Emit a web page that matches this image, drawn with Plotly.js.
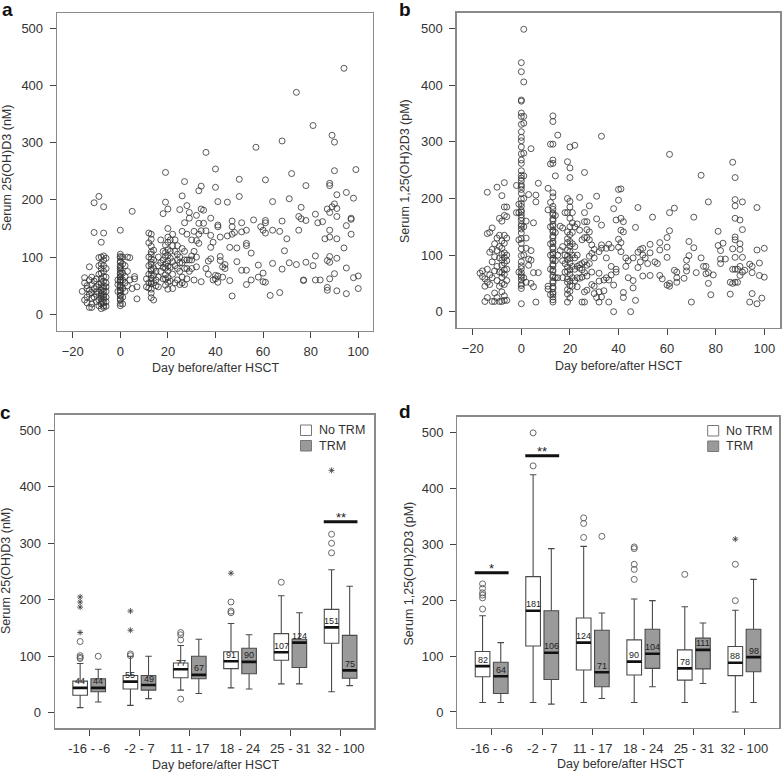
<!DOCTYPE html>
<html><head><meta charset="utf-8">
<script src="https://cdn.plot.ly/plotly-3.0.1.min.js"></script>
<style>html,body{margin:0;padding:0;background:#fff}#chart{width:782px;height:772px}</style>
</head><body><div id="chart"></div>
<script>
// ---------- Panel a: serum 25(OH)D3 (nM) by day ----------
const dayA = [
 -16,-15,-15,-15,-14,-14,-14,-14,-13,-13,-13,-13,-13,-12,-12,-12,-12,-12,-12,-11,-11,-11,-11,-11,-10,-10,-10,-10,-10,
 -9,-9,-9,-9,-9,-9,-9,-9,
 -8,-8,-8,-8,-8,-8,-8,-8,-8,-8,-8,-8,-8,-8,-8,
 -7,-7,-7,-7,-7,-7,-7,-7,-7,-7,-7,-7,-7,-7,-7,-7,-7,
 -6,-6,-6,-6,-6,-6,-6,-6,-6,
 -1,-1,-1,
 0,0,0,0,0,0,0,0,0,0,0,0,0,0,0,0,0,0,0,0,0,0,0,0,0,0,0,0,0,
 1,1,1,1,1,1,1,2,2,2,2,3,3,3,4,4,5,5,6,6,7,7,
 11,11,12,12,12,12,12,12,12,
 13,13,13,13,13,13,13,13,13,13,13,13,13,13,13,13,13,
 14,14,14,14,14,14,15,15,16,16,16,17,17,18,18,18,18,
 19,19,19,19,19,19,19,19,19,19,
 20,20,20,20,20,20,20,20,20,20,20,20,
 21,21,21,21,22,22,22,22,23,23,23,24,24,24,
 25,25,25,25,26,26,26,26,27,27,27,27,27,28,28,28,28,
 29,29,29,30,30,30,31,32,32,32,33,33,33,
 34,34,34,34,35,35,36,36,36,37,37,38,38,38,38,39,39,
 40,40,40,40,41,41,41,41,41,42,42,42,43,43,44,44,45,45,
 46,46,47,47,47,47,48,49,49,50,50,51,51,51,53,53,53,53,53,
 55,55,56,57,58,58,59,60,60,60,61,61,61,61,61,63,64,64,64,
 67,67,68,68,68,69,70,71,71,72,74,74,75,75,76,76,77,77,78,78,78,
 81,81,82,82,82,83,84,85,86,87,87,87,87,
 88,88,88,88,88,88,88,88,89,89,90,90,90,90,
 91,91,91,91,91,91,94,94,95,95,95,95,97,97,97,98,98,99,100,100,
 22,23,24,24,25,26,26,28,29,30,31,32,33,31,27,21,17,16,15,18
];
const valA = [
 40,25,55,64,20,30,45,50,12,35,42,60,83,12,18,28,38,52,65,30,45,58,143,195,22,35,48,62,40,
 15,25,38,52,70,85,99,206,
 10,18,22,28,32,36,42,48,55,62,72,80,88,100,126,
 12,15,20,26,30,34,40,45,50,58,66,75,85,95,102,142,188,
 14,22,30,40,55,65,80,98,48,
 40,52,60,
 15,19,25,27,32,33,38,41,42,47,50,51,56,59,60,65,66,71,72,77,80,83,85,91,93,99,101,105,147,
 18,30,45,60,72,88,100,40,55,66,85,50,75,100,60,99,45,180,62,66,27,48,
 48,62,46,55,70,85,100,125,142,
 29,37,44,53,57,63,69,76,79,87,91,97,105,109,119,131,140,
 25,55,68,80,95,112,60,75,85,100,48,90,130,95,110,176,62,
 51,62,69,81,88,101,108,121,196,248,
 44,56,64,76,84,93,103,113,126,135,150,184,
 58,82,98,130,45,70,92,140,55,85,110,60,95,120,
 52,75,100,183,65,90,145,207,52,80,110,160,232,62,95,140,190,
 75,168,178,102,95,130,110,83,129,173,124,159,216,
 57,146,184,224,159,182,80,146,283,70,93,97,117,138,168,60,126,
 68,62,222,254,56,67,153,156,197,94,101,135,65,83,80,87,137,196,
 59,117,32,140,153,163,143,92,116,206,236,77,144,160,52,77,120,124,147,
 60,107,165,292,65,86,153,57,72,147,56,142,160,164,235,33,89,147,197,
 38,145,79,163,303,111,132,90,202,246,87,388,147,171,167,187,59,60,91,164,225,
 85,330,60,102,175,160,60,162,132,42,47,94,184,
 62,91,101,135,147,178,225,229,188,313,71,193,251,301,
 41,98,132,171,185,209,116,430,36,81,155,213,140,166,168,64,203,253,45,67,
 120,130,80,105,90,55,115,80,95,80,145,100,140,60,95,110,75,65,50,82
];

// ---------- Panel b: serum 1,25(OH)2D3 (pM) by day ----------
const dayB = [
 -17,-16,-16,-15,-15,-15,-14,-14,-14,-14,-14,-13,-13,-13,-13,
 -12,-12,-12,-12,-12,-11,-11,-11,-11,-11,-10,-10,-10,-10,-10,-10,
 -9,-9,-9,-9,-9,-9,-9,
 -8,-8,-8,-8,-8,-8,-8,-8,-8,-8,-8,-8,
 -7,-7,-7,-7,-7,-7,-7,-7,-7,-7,-7,-7,-7,
 -6,-6,-6,-6,-6,-6,-6,-6,
 -2,-2,-1,-1,-1,-1,
 0,0,0,0,0,0,0,0,0,0,0,0,0,0,0,0,0,0,0,0,0,0,0,0,0,0,0,0,0,0,0,0,0,0,0,0,0,0,0,0,0,0,0,0,0,0,0,0,0,
 1,1,1,1,1,1,1,1,1,1,
 2,2,2,2,3,3,3,4,4,4,4,5,5,5,6,6,6,7,7,
 11,11,11,11,12,12,12,12,12,12,12,12,
 13,13,13,13,13,13,13,13,13,13,13,13,13,13,13,13,13,13,13,13,13,13,13,13,13,13,13,13,13,13,13,13,13,13,13,13,13,13,13,13,13,13,
 14,14,14,14,14,15,15,15,16,16,17,17,17,17,18,18,18,18,
 19,19,19,19,19,19,19,19,19,19,19,19,19,19,19,19,
 20,20,20,20,20,20,20,20,20,20,20,20,20,20,20,20,20,20,20,
 21,21,21,21,21,21,21,21,22,22,22,22,22,22,23,23,23,23,23,
 24,24,24,24,24,25,25,25,25,25,26,26,26,26,26,26,26,26,
 27,27,27,27,27,27,28,28,28,28,28,29,29,29,29,30,30,30,30,
 31,31,31,32,32,32,32,32,33,33,33,33,33,34,34,35,35,35,
 36,36,36,37,37,37,38,38,38,39,39,39,
 40,40,40,40,41,41,41,41,41,42,42,42,42,43,43,44,44,
 45,46,46,46,47,47,48,48,48,49,49,50,50,50,
 51,52,53,53,53,54,55,56,57,57,57,58,
 60,60,60,60,61,61,61,61,61,63,63,64,64,64,67,
 68,68,68,69,69,70,71,71,72,74,74,75,76,76,
 77,77,77,78,79,81,81,82,82,82,83,84,86,86,
 87,87,87,87,88,88,88,88,88,88,88,88,88,89,89,
 90,90,90,90,90,91,91,91,91,92,94,94,95,95,95,
 97,97,97,98,98,99,100,100
];
const valB = [
 68,62,72,45,58,18,211,138,75,25,52,140,105,65,48,
 148,110,88,60,18,120,97,72,33,18,220,130,108,80,55,25,
 165,135,115,95,70,45,18,
 205,160,125,112,101,91,82,69,61,50,35,18,
 228,185,170,135,121,104,96,86,74,66,48,28,20,
 185,168,130,100,75,55,20,90,
 223,175,70,127,175,190,
 41,46,49,56,61,64,69,76,81,88,99,111,121,129,139,146,151,154,161,166,171,176,179,186,191,199,209,216,221,224,231,236,241,249,262,268,279,291,302,308,318,331,345,351,372,374,424,440,14,
 499,406,345,333,60,100,150,200,240,280,
 52,112,130,160,207,93,82,50,91,108,288,157,69,44,206,194,17,227,69,
 45,40,180,218,30,75,100,120,150,296,261,193,
 17,21,26,31,34,41,44,51,54,61,64,71,74,81,84,91,94,101,104,111,114,121,124,131,134,141,144,151,154,161,164,171,174,181,186,203,210,268,262,296,336,346,
 60,90,140,170,240,312,60,100,151,108,148,115,60,90,70,85,100,175,
 17,31,39,52,58,71,79,92,98,109,122,129,141,175,200,265,
 24,36,46,54,66,74,86,94,106,116,124,136,150,165,185,195,237,254,291,
 45,60,80,100,120,140,175,157,55,75,95,115,294,150,60,80,100,155,44,
 202,144,83,77,59,17,85,74,61,127,246,175,17,35,88,69,159,131,
 159,38,82,63,131,145,187,127,98,85,141,48,103,70,118,32,45,110,95,
 204,164,25,35,17,54,68,106,310,153,26,112,118,37,56,112,60,95,
 17,56,119,113,65,80,47,182,0,162,75,70,
 216,197,128,114,217,165,144,122,106,159,141,34,25,80,95,90,60,
 0,42,95,55,149,20,184,105,78,110,88,63,100,112,
 95,85,119,104,64,167,88,85,122,109,64,58,
 96,47,131,114,45,50,278,175,143,183,73,70,60,52,59,
 91,79,72,124,99,17,113,167,69,241,95,80,80,67,
 194,69,50,30,65,142,117,108,93,85,121,93,52,31,
 50,264,111,75,237,198,187,165,132,127,96,75,52,75,52,
 162,120,110,80,64,194,145,96,70,73,84,17,80,69,32,
 184,109,14,86,64,24,112,61
];

// ---------- Panels c and d: box summaries by day window ----------
const groupLabels = ['-16 - -6','-2 - 7','11 - 17','18 - 24','25 - 31','32 - 100'];
const groupIdx = [0,1,2,3,4,5];

const cNoLow  = [9,13,40,44,51,37];
const cNoQ1   = [31,42,62,78,93,123];
const cNoMed  = [44,55,77,91,107,151];
const cNoQ3   = [56,66,88,108,140,183];
const cNoHigh = [87,100,119,158,207,253];
const cTrmLow  = [19,25,34,42,51,48];
const cTrmQ1   = [37,40,60,69,80,61];
const cTrmMed  = [44,49,67,90,124,75];
const cTrmQ3   = [60,66,100,114,130,137];
const cTrmHigh = [77,100,130,138,177,224];
const cNoOutG = [0,0,0,0,1,1,2,2,2,2,3,3,3,4,5,5,5];
const cNoOutV = [96,98,101,126,101,104,24,129,138,142,177,180,196,231,283,300,316];
const cTrmOutG = [0];
const cTrmOutV = [100];
const cStarG = [0,0,0,0,1,1,3,5];
const cStarV = [142,187,196,205,146,180,247,429];
const cSigG = [5];
const cSigV = [338];
const cSigT = ['**'];

const dNoLow  = [17,17,17,17,17,0];
const dNoQ1   = [63,118,75,66,57,65];
const dNoMed  = [82,181,124,90,78,88];
const dNoQ3   = [108,242,168,129,111,117];
const dNoHigh = [172,424,296,202,188,182];
const dTrmLow  = [17,14,24,45,51,17];
const dTrmQ1   = [33,58,45,78,77,72];
const dTrmMed  = [64,106,71,104,111,98];
const dTrmQ3   = [89,181,146,148,132,148];
const dTrmHigh = [124,292,177,199,159,237];
const dNoOutG = [0,0,0,0,0,0,1,1,2,2,2,3,3,3,3,3,4,5,5];
const dNoOutV = [184,204,209,213,221,229,440,499,312,337,347,237,255,264,292,295,246,199,264];
const dTrmOutG = [2];
const dTrmOutV = [314];
const dStarG = [5];
const dStarV = [309];
const dSigG = [0,1];
const dSigV = [249,458];
const dSigT = ['*','**'];

const dayTicks = [-20,0,20,40,60,80,100];
const valTicks = [0,100,200,300,400,500];

if (dayA.length !== valA.length || dayB.length !== valB.length) {
  throw new Error('length mismatch A ' + dayA.length + '/' + valA.length + ' B ' + dayB.length + '/' + valB.length);
}

// ---------- styling / layout ----------
const W = 782, H = 772;
const px = x => x / W, py = y => 1 - y / H;
const FONT = '"Liberation Sans", Arial, Helvetica, sans-serif';
const OFF = 0.18, BW = 0.29;
const WHITE = '#ffffff', GRAY = '#9a9a9a';

const scatterMarker = {symbol:'circle-open', size:6, color:'rgba(50,50,50,0.8)', line:{width:1}};
const outMarker = {symbol:'circle-open', size:6, color:'rgba(90,90,90,0.9)', line:{width:1}};
const starMarker = {symbol:'asterisk-open', size:5, color:'#3a3a3a', line:{width:0.8}};

const traces = [];
traces.push({type:'scatter', mode:'markers', x:dayA, y:valA, xaxis:'x', yaxis:'y', marker:scatterMarker, hoverinfo:'skip'});
traces.push({type:'scatter', mode:'markers', x:dayB, y:valB, xaxis:'x2', yaxis:'y2', marker:scatterMarker, hoverinfo:'skip'});

const annotations = [];

function boxPanel(xa, ya, sets) {
  sets.forEach(s => {
    const pos = groupIdx.map(i => i + s.off);
    traces.push({type:'box', orientation:'v', x:pos, q1:s.q1, median:s.med, q3:s.q3,
      lowerfence:s.lo, upperfence:s.hi, boxpoints:false, width:BW, whiskerwidth:0.45,
      fillcolor:s.fill, line:{color:'#4a4a4a', width:1.1}, xaxis:xa, yaxis:ya, hoverinfo:'skip'});
    // thick median bars
    const mx = [], my = [];
    groupIdx.forEach((g, i) => { mx.push(pos[i] - BW/2, pos[i] + BW/2, null); my.push(s.med[i], s.med[i], null); });
    traces.push({type:'scatter', mode:'lines', x:mx, y:my, line:{color:'#111', width:2.6}, xaxis:xa, yaxis:ya, hoverinfo:'skip'});
    // median labels
    groupIdx.forEach((g, i) => annotations.push({xref:xa, yref:ya, x:pos[i], y:s.med[i], text:String(s.med[i]),
      showarrow:false, yshift:6.5, font:{family:FONT, size:9, color:'#222'}}));
    // outliers
    if (s.og.length) traces.push({type:'scatter', mode:'markers', x:s.og.map(g => g + s.off), y:s.ov,
      marker:outMarker, xaxis:xa, yaxis:ya, hoverinfo:'skip'});
  });
}

boxPanel('x3','y3',[
  {off:-OFF, q1:cNoQ1, med:cNoMed, q3:cNoQ3, lo:cNoLow, hi:cNoHigh, fill:WHITE, og:cNoOutG, ov:cNoOutV},
  {off: OFF, q1:cTrmQ1, med:cTrmMed, q3:cTrmQ3, lo:cTrmLow, hi:cTrmHigh, fill:GRAY, og:cTrmOutG, ov:cTrmOutV}
]);
boxPanel('x4','y4',[
  {off:-OFF, q1:dNoQ1, med:dNoMed, q3:dNoQ3, lo:dNoLow, hi:dNoHigh, fill:WHITE, og:dNoOutG, ov:dNoOutV},
  {off: OFF, q1:dTrmQ1, med:dTrmMed, q3:dTrmQ3, lo:dTrmLow, hi:dTrmHigh, fill:GRAY, og:dTrmOutG, ov:dTrmOutV}
]);

// extreme values (asterisks) and significance bars
function stars(xa, ya, G, V) {
  traces.push({type:'scatter', mode:'markers', x:G.map(g => g - OFF), y:V, marker:starMarker,
    xaxis:xa, yaxis:ya, hoverinfo:'skip'});
}
stars('x3','y3',cStarG,cStarV);
stars('x4','y4',dStarG,dStarV);

function sig(xa, ya, G, V, T) {
  const sx = [], sy = [];
  G.forEach((g, i) => {
    sx.push(g - 0.335, g + 0.335, null); sy.push(V[i], V[i], null);
    annotations.push({xref:xa, yref:ya, x:g, y:V[i], text:T[i], showarrow:false, yshift:4,
      font:{family:FONT, size:13, color:'#222'}});
  });
  traces.push({type:'scatter', mode:'lines', x:sx, y:sy, line:{color:'#111', width:3}, xaxis:xa, yaxis:ya, hoverinfo:'skip'});
}
sig('x3','y3',cSigG,cSigV,cSigT);
sig('x4','y4',dSigG,dSigV,dSigT);

const axisBase = {showgrid:false, zeroline:false, showline:true, mirror:true, linecolor:'#8a8a8a', linewidth:1.3,
  ticks:'outside', ticklen:6, tickwidth:1, tickcolor:'#444', tickfont:{family:FONT, size:13, color:'#333'},
  fixedrange:true};
const xDay = Object.assign({}, axisBase, {tickmode:'array', tickvals:dayTicks, ticklabelstandoff:2});
const yVal = Object.assign({}, axisBase, {tickmode:'array', tickvals:valTicks, ticklabelstandoff:4});
const xGrp = Object.assign({}, axisBase, {tickmode:'array', tickvals:groupIdx, ticktext:groupLabels, ticklabelstandoff:2});

const layout = {
  width:W, height:H, margin:{l:0, r:0, t:0, b:0}, paper_bgcolor:'#fff', plot_bgcolor:'#fff',
  showlegend:false, boxmode:'overlay', font:{family:FONT, color:'#333'},
  xaxis:  Object.assign({}, xDay, {domain:[px(57), px(373)], range:[-26.6,106.2], anchor:'y'}),
  yaxis:  Object.assign({}, yVal, {domain:[py(331), py(13)], range:[-29.2,526.7], anchor:'x'}),
  xaxis2: Object.assign({}, xDay, {domain:[px(456.7), px(780.3)], range:[-26.6,106.6], anchor:'y2'}),
  yaxis2: Object.assign({}, yVal, {domain:[py(327.7), py(12.7)], range:[-28.3,528.3], anchor:'x2'}),
  xaxis3: Object.assign({}, xGrp, {domain:[px(55), px(374.3)], range:[-0.68,5.67], anchor:'y3'}),
  yaxis3: Object.assign({}, yVal, {domain:[py(728.3), py(414.7)], range:[-27.6,527.6], anchor:'x3'}),
  xaxis4: Object.assign({}, xGrp, {domain:[px(457.3), px(779.3)], range:[-0.68,5.69], anchor:'y4'}),
  yaxis4: Object.assign({}, yVal, {domain:[py(727.7), py(416.7)], range:[-28.1,527.9], anchor:'x4'}),
  annotations: annotations,
  shapes: []
};

const titleFont = {family:FONT, size:12.5, color:'#333'};
function paperText(x, y, text, opts) {
  annotations.push(Object.assign({xref:'paper', yref:'paper', x:px(x), y:py(y), text:text, showarrow:false,
    xanchor:'center', yanchor:'middle', font:titleFont}, opts || {}));
}
const xTitle = 'Day before/after HSCT';
paperText(215, 368, xTitle);
paperText(618.7, 365.7, xTitle);
paperText(216, 765, xTitle);
paperText(620, 763.7, xTitle);
paperText(7, 168, 'Serum 25(OH)D3 (nM)', {textangle:-90});
paperText(405, 171, 'Serum 1,25(OH)2D3 (pM)', {textangle:-90});
paperText(6, 571, 'Serum 25(OH)D3 (nM)', {textangle:-90});
paperText(408, 573.5, 'Serum 1,25(OH)2D3 (pM)', {textangle:-90});
const labFont = {family:FONT, size:19, color:'#111'};
paperText(7, 9, '<b>a</b>', {font:labFont});
paperText(405, 9, '<b>b</b>', {font:labFont});
paperText(5, 412, '<b>c</b>', {font:labFont});
paperText(405, 411, '<b>d</b>', {font:labFont});

// legends
function legend(x0, yTop, names, fills) {
  names.forEach((n, i) => {
    const y0 = yTop + i * 15.5;
    layout.shapes.push({type:'rect', xref:'paper', yref:'paper', x0:px(x0), x1:px(x0 + 11), y0:py(y0 + 10.5), y1:py(y0),
      fillcolor:fills[i], line:{color:'#777', width:1}});
    paperText(x0 + 16, y0 + 5.3, n, {xanchor:'left', font:{family:FONT, size:12.5, color:'#333'}});
  });
}
const legendNames = ['No TRM','TRM'];
legend(300.5, 425, legendNames, [WHITE, GRAY]);
legend(707.7, 425.5, legendNames, [WHITE, GRAY]);

Plotly.newPlot('chart', traces, layout, {displayModeBar:false, staticPlot:true});
</script></body></html>
